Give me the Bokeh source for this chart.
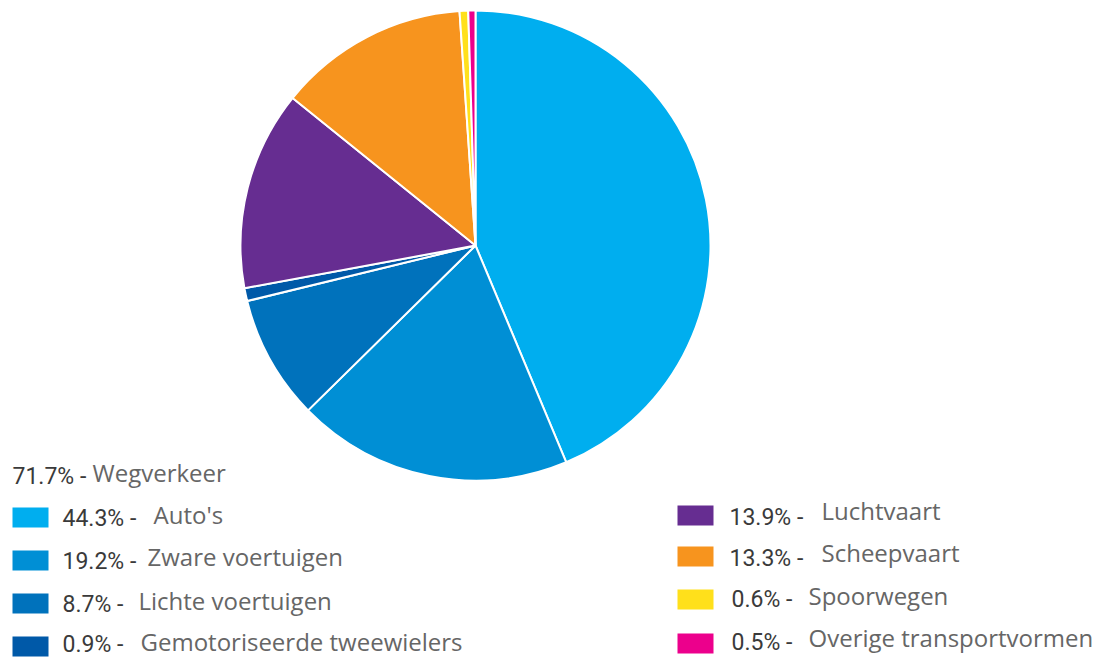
import math
from bokeh.plotting import figure
from bokeh.models import Range1d, ColumnDataSource
from bokeh.core.properties import value
from bokeh.embed import file_html
from bokeh.resources import INLINE

# ---- data ----
categories = ["Auto's", "Zware voertuigen", "Lichte voertuigen", "Gemotoriseerde tweewielers",
              "Luchtvaart", "Scheepvaart", "Spoorwegen", "Overige transportvormen"]
values = [44.3, 19.2, 8.7, 0.9, 13.9, 13.3, 0.6, 0.5]
colors = ["#00AEEF", "#008FD5", "#0072BC", "#0059A8", "#662D91", "#F7941E", "#FFE01B", "#EC008C"]
group_label = "Wegverkeer"
group_value = 71.7

# ---- layout (screen pixels) ----
W, H = 1108, 657
def Y(sy):
    return H - sy

p = figure(width=W, height=H, output_backend="svg", toolbar_location=None,
           x_range=Range1d(0, W), y_range=Range1d(0, H),
           min_border=0, outline_line_color=None)
p.axis.visible = False
p.grid.visible = False

# pie
total = sum(values)
starts, ends = [], []
acc = 0.0
for v in values:
    starts.append(math.pi / 2 - acc / total * 2 * math.pi)
    acc += v
    ends.append(math.pi / 2 - acc / total * 2 * math.pi)
pie_src = ColumnDataSource(dict(start=starts, end=ends, color=colors, cat=categories))
p.wedge(x=475, y=Y(245), radius=235, start_angle="start", end_angle="end",
        direction="clock", fill_color="color", line_color="white", line_width=2,
        source=pie_src)

# legend rows
sq_x = [30, 30, 30, 30, 695, 695, 695, 695]
sq_y = [517, 560, 603, 646, 515, 556, 599, 643]
pct_x = [62, 62, 62, 62, 729, 729, 731, 731]
pct_y = [518, 561, 604, 644, 517, 558, 599, 642]
lab_x = [153, 147, 138, 140, 821, 821, 808, 808]
lab_y = [514, 556, 600, 641, 510, 552, 595, 637]

p.rect(x=sq_x, y=[Y(v) for v in sq_y], width=36, height=20, fill_color=colors, line_color=None)

pct_font = value("Roboto")
lab_font = value("Open Sans")
p.text(x=pct_x, y=[Y(v) for v in pct_y], text=[f"{v}% -" for v in values],
       text_font=pct_font, text_font_size="23px", text_color="#3a3a3a",
       text_baseline="middle", text_align="left")
p.text(x=lab_x, y=[Y(v) for v in lab_y], text=categories,
       text_font=lab_font, text_font_size="24px", text_color="#666666",
       text_baseline="middle", text_align="left")

# group heading
p.text(x=[12], y=[Y(476)], text=[f"{group_value}% -"],
       text_font=pct_font, text_font_size="23px", text_color="#3a3a3a",
       text_baseline="middle", text_align="left")
p.text(x=[92], y=[Y(472)], text=[group_label],
       text_font=lab_font, text_font_size="24px", text_color="#666666",
       text_baseline="middle", text_align="left")

open("out.html", "w").write(file_html(p, INLINE))
